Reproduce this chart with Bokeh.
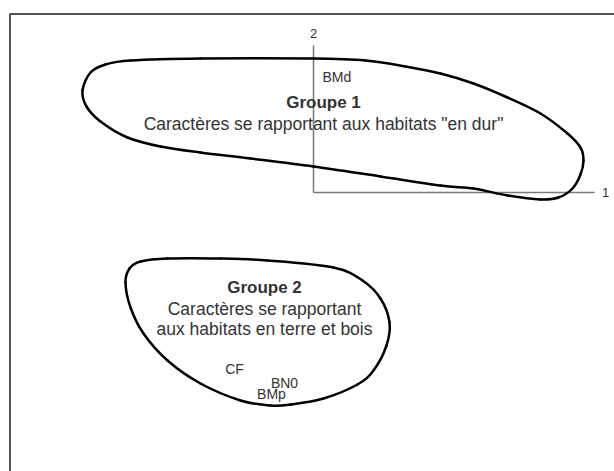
import numpy as np
from bokeh.plotting import figure
from bokeh.models import Range1d, ColumnDataSource
from bokeh.core.properties import value
from bokeh.embed import file_html
from bokeh.resources import INLINE

# ---- data (factor plane, axis 1 horizontal, axis 2 vertical) ----
g1_x = [-231, -223, -208, -183, -113, 0, 52, 92, 127, 160, 194, 227, 254, 267, 270,
        267, 259, 245, 227, 194, 160, 127, 67, 0, -63, -113, -153, -186, -213, -227]
g1_y = [102, 120, 128, 132, 134, 134, 132, 126, 119, 109, 95, 79, 59, 45, 32,
        18, 4, -5, -7, -3, 4, 7, 16, 26, 34, 40, 46, 55, 71, 86]

g2_x = [-188, -184, -173, -146, -93, -46, 20, 49, 67, 76, 73, 60, 44, 10, -23,
        -43, -73, -113, -146, -170, -183]
g2_y = [-90, -76, -69, -66, -66, -68, -75, -88, -106, -130, -153, -178, -192, -206, -212,
        -213, -208, -191, -168, -141, -115]

axis_names = ["1", "2"]
axis_end_x = [281, 0]
axis_end_y = [0, 147]
axis_label_x = [292, 0]
axis_label_y = [0, 159]

var_labels = ["BMd", "CF", "BN0", "BMp"]
var_x = [9, -79, -29, -42]
var_y = [116, -176, -190, -201]

group_titles = ["Groupe 1", "Groupe 2"]
group_title_x = [10, -49]
group_title_y = [90, -95]
group_desc = ['Caractères se rapportant aux habitats "en dur"',
              "Caractères se rapportant", "aux habitats en terre et bois"]
group_desc_x = [10, -49, -49]
group_desc_y = [69, -116, -136]

frame_x = [-303.5, -303.5, 305]
frame_y = [-285, 178.5, 178.5]

FONT = value("Liberation Sans")

p = figure(width=614, height=471, output_backend="svg", toolbar_location=None,
           x_range=Range1d(-313, 301), y_range=Range1d(-279, 192),
           min_border=0, min_border_left=0, min_border_right=0,
           min_border_top=0, min_border_bottom=0)
p.axis.visible = False
p.grid.visible = False
p.outline_line_color = None
p.background_fill_color = "white"
p.border_fill_color = "white"

# frame
p.line(frame_x, frame_y, line_color="#555555", line_width=2)

# factor axes
p.segment(x0=[0, 0], y0=[0, 0], x1=axis_end_x, y1=axis_end_y,
          line_color="#7a7a7a", line_width=1.5)
p.text(x=axis_label_x, y=axis_label_y, text=axis_names, text_font=FONT,
       text_font_size="13px", text_color="#333333", text_align="center",
       text_baseline="middle")


def closed_bezier(xs, ys):
    xs = np.asarray(xs, float)
    ys = np.asarray(ys, float)
    n = len(xs)
    i = np.arange(n)
    x0, y0 = xs[(i - 1) % n], ys[(i - 1) % n]
    x1, y1 = xs, ys
    x2, y2 = xs[(i + 1) % n], ys[(i + 1) % n]
    x3, y3 = xs[(i + 2) % n], ys[(i + 2) % n]
    return dict(x0=x1, y0=y1, x1=x2, y1=y2,
                cx0=x1 + (x2 - x0) / 6, cy0=y1 + (y2 - y0) / 6,
                cx1=x2 - (x3 - x1) / 6, cy1=y2 - (y3 - y1) / 6)


for gx, gy in [(g1_x, g1_y), (g2_x, g2_y)]:
    src = ColumnDataSource(closed_bezier(gx, gy))
    p.bezier(x0="x0", y0="y0", x1="x1", y1="y1", cx0="cx0", cy0="cy0",
             cx1="cx1", cy1="cy1", source=src, line_color="black",
             line_width=2.5, line_cap="round")

p.text(x=group_title_x, y=group_title_y, text=group_titles, text_font=FONT,
       text_font_size="17px", text_font_style="bold", text_color="#333333",
       text_align="center", text_baseline="middle")
p.text(x=group_desc_x, y=group_desc_y, text=group_desc, text_font=FONT,
       text_font_size="17.5px", text_color="#333333",
       text_align="center", text_baseline="middle")
p.text(x=var_x, y=var_y, text=var_labels, text_font=FONT,
       text_font_size="14px", text_color="#333333",
       text_align=["left", "center", "center", "center"], text_baseline="middle")

open("out.html", "w").write(file_html(p, INLINE))
